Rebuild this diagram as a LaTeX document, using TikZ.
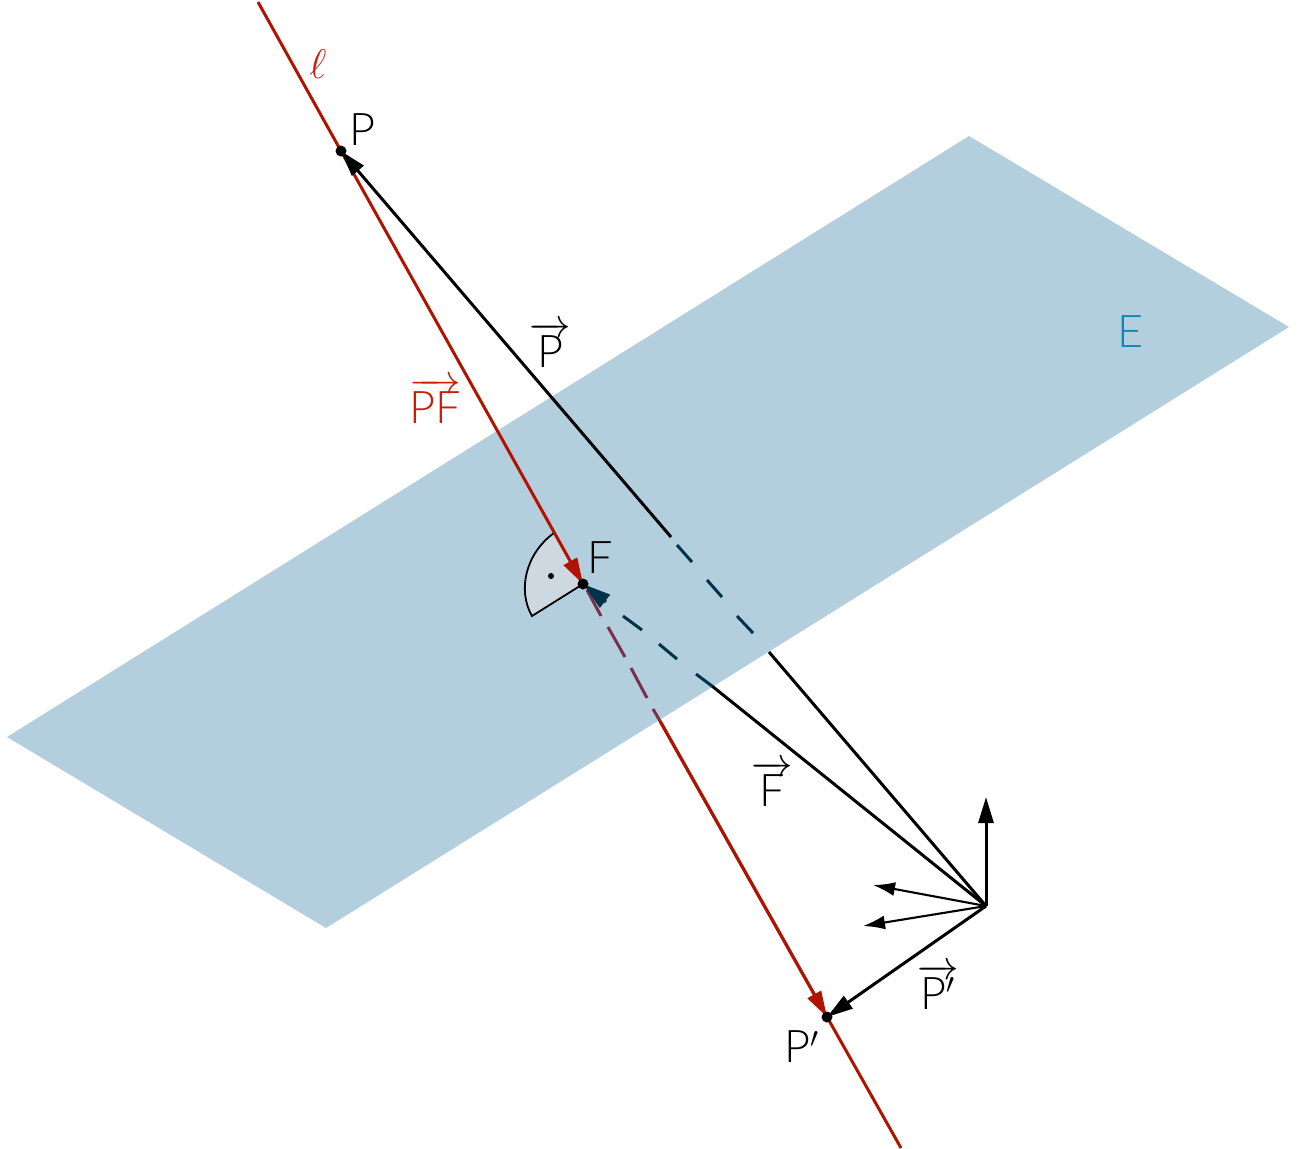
\documentclass[tikz,border=0pt]{standalone}
\usepackage{fontspec}
\usetikzlibrary{arrows.meta}
\setmainfont{Lato Light}
\definecolor{planec}{HTML}{B3CFDE}
\definecolor{redl}{HTML}{B01400}
\definecolor{redt}{HTML}{C81E0A}
\definecolor{dashb}{HTML}{00324B}
\definecolor{dashr}{HTML}{7A2F4B}
\definecolor{sect}{HTML}{CED8E0}
\definecolor{elab}{HTML}{0F85B4}
\newcommand{\vecl}[1]{$\overrightarrow{\hbox{\rule{0pt}{0.71em}\smash{#1}}}$}
\tikzset{
  lab/.style={inner sep=0pt,font=\fontsize{22.5}{24}\selectfont},
  veclab/.style={lab,anchor=base},
  pt/.style={circle,fill=black,inner sep=0pt,minimum size=5.5pt},
  vecline/.style={line width=1.5pt,black},
  thin vec/.style={line width=1.05pt,black},
  redline/.style={line width=1.5pt,redl},
  bd/.style={line width=1.5pt,dashb},
  rd/.style={line width=1.5pt,dashr},
  bighead/.style={-{Stealth[length=13pt,width=7.5pt,inset=0pt]}},
  smallhead/.style={-{Latex[length=11pt,width=7pt]}},
}
\begin{document}
\begin{tikzpicture}[x=0.5pt,y=-0.5pt]
\useasboundingbox (0,0) rectangle (1304,1148);
% plane
\fill[planec] (969,136) -- (1289,327) -- (326,928) -- (7,737) -- cycle;
% named points
\coordinate (O) at (986,906);
\coordinate (Pc) at (341,151);
\coordinate (Fc) at (583,584);
\coordinate (Qc) at (827,1017);
\coordinate (ltop) at (258,2);
\coordinate (lbot) at (901,1148);
\coordinate (up) at (986,797);
\coordinate (a1) at (873,885);
\coordinate (a2) at (863,926);
% right-angle sector
\coordinate (s1) at (554,533);
\coordinate (s2) at (532,616);
\fill[sect] (Fc) -- (s1) .. controls (526,553) and (517,590) .. (s2) -- cycle;
\draw[line width=0.9pt] (s1) .. controls (526,553) and (517,590) .. (s2) -- (Fc);
\node[circle,fill=black,inner sep=0pt,minimum size=3pt] (sd) at (551,576) {};
% line l
\draw[redline] (ltop) -- (Pc);
\draw[redline,bighead] (Pc) -- (Fc);
\coordinate (r1) at (587,590); \coordinate (r2) at (601,616);
\coordinate (r3) at (608,627); \coordinate (r4) at (625,657);
\coordinate (r5) at (631,668); \coordinate (r6) at (647,698);
\coordinate (r7) at (653,709); \coordinate (r8) at (660,721);
\draw[rd] (r1) -- (r2); \draw[rd] (r3) -- (r4); \draw[rd] (r5) -- (r6); \draw[rd] (r7) -- (r8);
\draw[redline] (r8) -- (lbot);
\draw[redline,bighead] (r8) -- (Qc);
% vector P
\coordinate (p1) at (769,652); \coordinate (p2) at (753,633);
\coordinate (p3) at (737,616); \coordinate (p4) at (722,597);
\coordinate (p5) at (707,580); \coordinate (p6) at (692,562);
\coordinate (p7) at (677,545); \coordinate (p8) at (671,537);
\draw[vecline] (O) -- (p1);
\draw[bd] (p2) -- (p3); \draw[bd] (p4) -- (p5); \draw[bd] (p6) -- (p7);
\draw[vecline,bighead] (p8) -- (Pc);
% vector F
\coordinate (f0) at (712,686);
\coordinate (f1) at (696,674); \coordinate (f2) at (677,659);
\coordinate (f3) at (659,644); \coordinate (f4) at (642,630);
\coordinate (f5) at (623,616); \coordinate (f6) at (606,602);
\draw[vecline] (O) -- (f0);
\draw[bd] (f0) -- (f1);
\draw[bd] (f2) -- (f3);
\draw[bd] (f4) -- (f5);
\draw[dashb,line width=1.5pt,-{Stealth[length=14pt,width=8pt,inset=0pt]}] (f6) -- (Fc);
% others
\draw[vecline,bighead] (O) -- (Qc);
\draw[vecline,bighead] (O) -- (up);
\draw[thin vec,smallhead] (O) -- (a1);
\draw[thin vec,smallhead] (O) -- (a2);
% points
\node[pt] (P) at (Pc) {};
\node[pt] (F) at (Fc) {};
\node[pt] (Q) at (Qc) {};
% labels
\node[lab] (lP) at (362,130) {P};
\node[lab] (lF) at (600,558) {F};
\node[lab] (lQ) at (802,1047) {P$'$};
\node[lab,text=elab] (lE) at (1131,332) {E};
\node[lab,text=redt] (ll) at (318,64) {$\ell$};
\node[veclab,text=redt] (vPF) at (435,423) {\vecl{PF}};
\node[veclab] (vP) at (550,367) {\vecl{P}};
\node[veclab] (vF) at (772,806) {\vecl{F}};
\node[veclab] (vQ) at (938,1009) {\vecl{P$'$}};
\end{tikzpicture}
\end{document}
